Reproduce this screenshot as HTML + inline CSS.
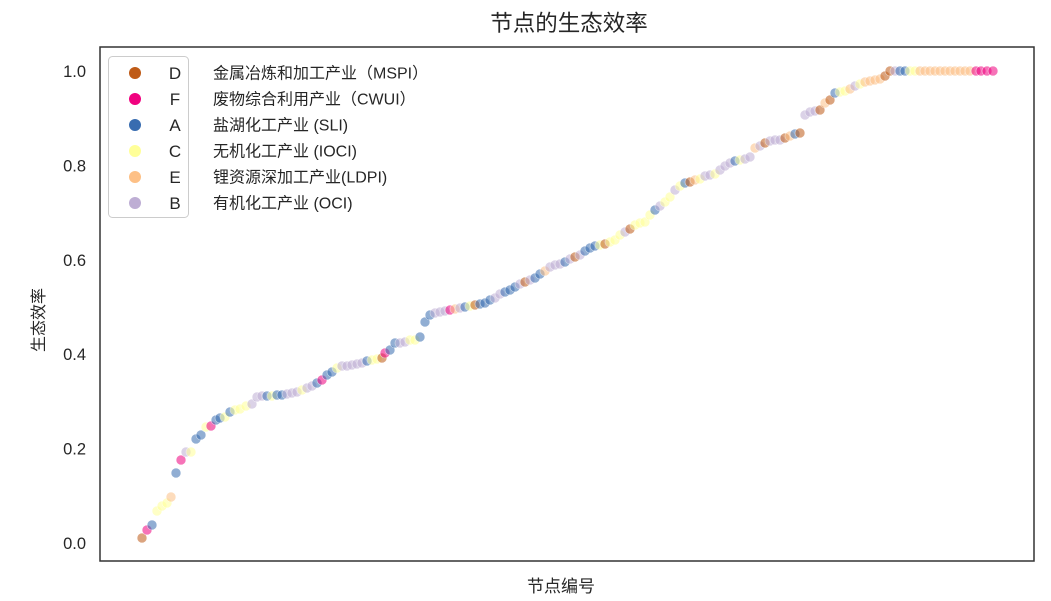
<!DOCTYPE html>
<html>
<head>
<meta charset="utf-8">
<style>
html,body{margin:0;padding:0;background:#fff;}
svg{display:block;}
.t{font-family:"Liberation Sans","Noto Sans CJK SC",sans-serif;fill:#262626;}
.pts circle{stroke:#fff;stroke-width:0.6;opacity:0.55;}
.a{fill:#386cb0;} .b{fill:#beaed4;} .c{fill:#ffff99;} .d{fill:#bf5b17;} .e{fill:#fdc086;} .f{fill:#f0027f;}
</style>
</head>
<body>
<svg width="1051" height="601" viewBox="0 0 1051 601" xmlns="http://www.w3.org/2000/svg">
<rect x="0" y="0" width="1051" height="601" fill="#fff"/>
<text class="t" x="569" y="31" font-size="22.5" text-anchor="middle">节点的生态效率</text>
<g class="pts">
<circle class="d" cx="142" cy="538" r="5"/>
<circle class="f" cx="147" cy="530" r="5"/>
<circle class="a" cx="152" cy="525" r="5"/>
<circle class="c" cx="157" cy="511" r="5"/>
<circle class="c" cx="162" cy="506" r="5"/>
<circle class="c" cx="167" cy="503" r="5"/>
<circle class="e" cx="171" cy="497" r="5"/>
<circle class="a" cx="176" cy="473" r="5"/>
<circle class="f" cx="181" cy="460" r="5"/>
<circle class="b" cx="186" cy="452" r="5"/>
<circle class="c" cx="191" cy="452" r="5"/>
<circle class="a" cx="196" cy="439" r="5"/>
<circle class="a" cx="201" cy="435" r="5"/>
<circle class="c" cx="206" cy="427" r="5"/>
<circle class="f" cx="211" cy="426" r="5"/>
<circle class="a" cx="216" cy="420" r="5"/>
<circle class="a" cx="220" cy="418" r="5"/>
<circle class="c" cx="225" cy="417" r="5"/>
<circle class="a" cx="230" cy="412" r="5"/>
<circle class="c" cx="235" cy="410" r="5"/>
<circle class="c" cx="240" cy="409" r="5"/>
<circle class="c" cx="246" cy="406" r="5"/>
<circle class="b" cx="252" cy="404" r="5"/>
<circle class="b" cx="257" cy="397" r="5"/>
<circle class="b" cx="262" cy="396" r="5"/>
<circle class="a" cx="267" cy="396" r="5"/>
<circle class="c" cx="272" cy="396" r="5"/>
<circle class="a" cx="277" cy="395" r="5"/>
<circle class="a" cx="282" cy="395" r="5"/>
<circle class="b" cx="287" cy="394" r="5"/>
<circle class="b" cx="292" cy="393" r="5"/>
<circle class="b" cx="297" cy="392" r="5"/>
<circle class="c" cx="302" cy="390" r="5"/>
<circle class="b" cx="307" cy="388" r="5"/>
<circle class="b" cx="312" cy="386" r="5"/>
<circle class="a" cx="317" cy="383" r="5"/>
<circle class="f" cx="322" cy="380" r="5"/>
<circle class="a" cx="327" cy="375" r="5"/>
<circle class="a" cx="332" cy="372" r="5"/>
<circle class="c" cx="337" cy="368" r="5"/>
<circle class="b" cx="342" cy="366" r="5"/>
<circle class="b" cx="347" cy="366" r="5"/>
<circle class="b" cx="352" cy="365" r="5"/>
<circle class="b" cx="357" cy="364" r="5"/>
<circle class="b" cx="362" cy="363" r="5"/>
<circle class="a" cx="367" cy="361" r="5"/>
<circle class="c" cx="372" cy="360" r="5"/>
<circle class="c" cx="377" cy="359" r="5"/>
<circle class="d" cx="382" cy="358" r="5"/>
<circle class="f" cx="385" cy="353" r="5"/>
<circle class="a" cx="390" cy="350" r="5"/>
<circle class="a" cx="395" cy="343" r="5"/>
<circle class="b" cx="400" cy="343" r="5"/>
<circle class="b" cx="405" cy="342" r="5"/>
<circle class="c" cx="410" cy="340" r="5"/>
<circle class="c" cx="415" cy="340" r="5"/>
<circle class="a" cx="420" cy="337" r="5"/>
<circle class="a" cx="425" cy="322" r="5"/>
<circle class="a" cx="430" cy="315" r="5"/>
<circle class="b" cx="435" cy="313" r="5"/>
<circle class="b" cx="440" cy="312" r="5"/>
<circle class="b" cx="445" cy="311" r="5"/>
<circle class="f" cx="450" cy="310" r="5"/>
<circle class="e" cx="455" cy="309" r="5"/>
<circle class="b" cx="460" cy="308" r="5"/>
<circle class="a" cx="465" cy="307" r="5"/>
<circle class="c" cx="470" cy="306" r="5"/>
<circle class="d" cx="475" cy="305" r="5"/>
<circle class="a" cx="480" cy="304" r="5"/>
<circle class="a" cx="485" cy="303" r="5"/>
<circle class="a" cx="490" cy="300" r="5"/>
<circle class="b" cx="495" cy="298" r="5"/>
<circle class="b" cx="500" cy="294" r="5"/>
<circle class="a" cx="505" cy="292" r="5"/>
<circle class="a" cx="510" cy="290" r="5"/>
<circle class="a" cx="515" cy="287" r="5"/>
<circle class="b" cx="520" cy="284" r="5"/>
<circle class="d" cx="525" cy="282" r="5"/>
<circle class="b" cx="530" cy="280" r="5"/>
<circle class="a" cx="535" cy="278" r="5"/>
<circle class="a" cx="540" cy="274" r="5"/>
<circle class="e" cx="545" cy="271" r="5"/>
<circle class="b" cx="550" cy="267" r="5"/>
<circle class="b" cx="555" cy="265" r="5"/>
<circle class="b" cx="560" cy="264" r="5"/>
<circle class="a" cx="565" cy="262" r="5"/>
<circle class="b" cx="570" cy="259" r="5"/>
<circle class="d" cx="575" cy="257" r="5"/>
<circle class="b" cx="580" cy="255" r="5"/>
<circle class="a" cx="585" cy="251" r="5"/>
<circle class="a" cx="590" cy="248" r="5"/>
<circle class="a" cx="595" cy="246" r="5"/>
<circle class="c" cx="600" cy="245" r="5"/>
<circle class="d" cx="605" cy="244" r="5"/>
<circle class="c" cx="610" cy="242" r="5"/>
<circle class="c" cx="615" cy="240" r="5"/>
<circle class="c" cx="620" cy="235" r="5"/>
<circle class="b" cx="625" cy="232" r="5"/>
<circle class="d" cx="630" cy="229" r="5"/>
<circle class="c" cx="635" cy="225" r="5"/>
<circle class="c" cx="640" cy="223" r="5"/>
<circle class="c" cx="645" cy="222" r="5"/>
<circle class="c" cx="650" cy="215" r="5"/>
<circle class="a" cx="655" cy="210" r="5"/>
<circle class="b" cx="660" cy="206" r="5"/>
<circle class="c" cx="665" cy="202" r="5"/>
<circle class="c" cx="670" cy="197" r="5"/>
<circle class="b" cx="675" cy="190" r="5"/>
<circle class="c" cx="680" cy="186" r="5"/>
<circle class="a" cx="685" cy="183" r="5"/>
<circle class="d" cx="690" cy="182" r="5"/>
<circle class="e" cx="695" cy="180" r="5"/>
<circle class="c" cx="700" cy="179" r="5"/>
<circle class="b" cx="705" cy="176" r="5"/>
<circle class="b" cx="710" cy="175" r="5"/>
<circle class="c" cx="715" cy="174" r="5"/>
<circle class="b" cx="720" cy="170" r="5"/>
<circle class="b" cx="725" cy="166" r="5"/>
<circle class="b" cx="730" cy="163" r="5"/>
<circle class="a" cx="735" cy="161" r="5"/>
<circle class="c" cx="740" cy="160" r="5"/>
<circle class="b" cx="745" cy="159" r="5"/>
<circle class="b" cx="750" cy="157" r="5"/>
<circle class="e" cx="755" cy="148" r="5"/>
<circle class="b" cx="760" cy="146" r="5"/>
<circle class="d" cx="765" cy="143" r="5"/>
<circle class="b" cx="770" cy="141" r="5"/>
<circle class="b" cx="775" cy="140" r="5"/>
<circle class="b" cx="780" cy="140" r="5"/>
<circle class="d" cx="785" cy="138" r="5"/>
<circle class="e" cx="790" cy="136" r="5"/>
<circle class="a" cx="795" cy="134" r="5"/>
<circle class="d" cx="800" cy="133" r="5"/>
<circle class="b" cx="805" cy="115" r="5"/>
<circle class="b" cx="810" cy="112" r="5"/>
<circle class="b" cx="815" cy="111" r="5"/>
<circle class="d" cx="820" cy="110" r="5"/>
<circle class="e" cx="825" cy="103" r="5"/>
<circle class="d" cx="830" cy="100" r="5"/>
<circle class="a" cx="835" cy="93" r="5"/>
<circle class="c" cx="840" cy="92" r="5"/>
<circle class="c" cx="845" cy="91" r="5"/>
<circle class="e" cx="850" cy="89" r="5"/>
<circle class="b" cx="855" cy="86" r="5"/>
<circle class="c" cx="860" cy="84" r="5"/>
<circle class="e" cx="865" cy="82" r="5"/>
<circle class="e" cx="870" cy="81" r="5"/>
<circle class="e" cx="875" cy="80" r="5"/>
<circle class="e" cx="880" cy="79" r="5"/>
<circle class="d" cx="885" cy="76" r="5"/>
<circle class="d" cx="890" cy="71" r="5"/>
<circle class="b" cx="895" cy="71" r="5"/>
<circle class="a" cx="900" cy="71" r="5"/>
<circle class="a" cx="905" cy="71" r="5"/>
<circle class="c" cx="910" cy="71" r="5"/>
<circle class="c" cx="915" cy="71" r="5"/>
<circle class="e" cx="920" cy="71" r="5"/>
<circle class="e" cx="925" cy="71" r="5"/>
<circle class="e" cx="930" cy="71" r="5"/>
<circle class="e" cx="935" cy="71" r="5"/>
<circle class="e" cx="940" cy="71" r="5"/>
<circle class="e" cx="945" cy="71" r="5"/>
<circle class="e" cx="950" cy="71" r="5"/>
<circle class="e" cx="955" cy="71" r="5"/>
<circle class="e" cx="960" cy="71" r="5"/>
<circle class="e" cx="965" cy="71" r="5"/>
<circle class="e" cx="970" cy="71" r="5"/>
<circle class="f" cx="976" cy="71" r="5"/>
<circle class="f" cx="981" cy="71" r="5"/>
<circle class="f" cx="987" cy="71" r="5"/>
<circle class="f" cx="993" cy="71" r="5"/>
</g>
<!-- legend -->
<rect x="108.5" y="56.5" width="80" height="161" rx="4" ry="4" fill="#fff" fill-opacity="0.8" stroke="#cccccc" stroke-width="1"/>
<circle cx="135" cy="73" r="6" class="d"/>
<circle cx="135" cy="99" r="6" class="f"/>
<circle cx="135" cy="125" r="6" class="a"/>
<circle cx="135" cy="151" r="6" class="c"/>
<circle cx="135" cy="177" r="6" class="e"/>
<circle cx="135" cy="203" r="6" class="b"/>
<g class="t" font-size="17" text-anchor="middle">
<text x="175" y="79">D</text>
<text x="175" y="105">F</text>
<text x="175" y="131">A</text>
<text x="175" y="157">C</text>
<text x="175" y="183">E</text>
<text x="175" y="209">B</text>
</g>
<g class="t" font-size="16">
<text x="213" y="78.5">金属冶炼和加工产业（MSPI）</text>
<text x="213" y="104.5">废物综合利用产业（CWUI）</text>
<text x="213" y="130.5">盐湖化工产业 (SLI)</text>
<text x="213" y="156.5">无机化工产业 (IOCI)</text>
<text x="213" y="182.5">锂资源深加工产业(LDPI)</text>
<text x="213" y="208.5">有机化工产业 (OCI)</text>
</g>
<!-- frame -->
<rect x="100" y="47" width="934" height="514" fill="none" stroke="#333" stroke-width="1.5"/>
<!-- y tick labels -->
<g class="t" font-size="16.5" text-anchor="end">
<text x="86" y="549">0.0</text>
<text x="86" y="454.6">0.2</text>
<text x="86" y="360.2">0.4</text>
<text x="86" y="265.8">0.6</text>
<text x="86" y="171.4">0.8</text>
<text x="86" y="77">1.0</text>
</g>
<text class="t" font-size="16" text-anchor="middle" transform="translate(44,320) rotate(-90)">生态效率</text>
<text class="t" font-size="17" x="561" y="592" text-anchor="middle">节点编号</text>
</svg>
</body>
</html>
